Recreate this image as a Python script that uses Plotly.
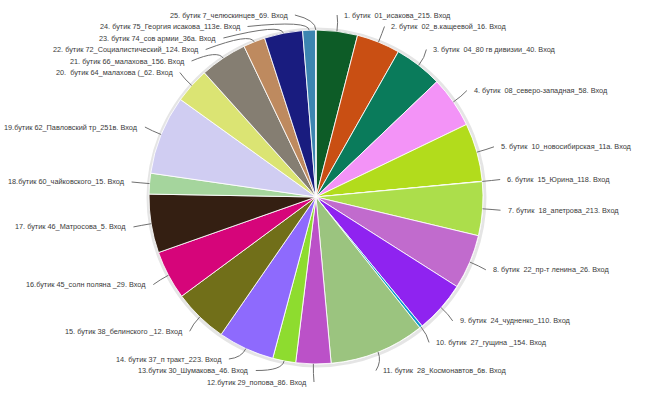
import math
import plotly.graph_objects as go

# Store entrance counts per boutique (clockwise from 12 o'clock)
labels = [
    "1. бутик  01_исакова_215. Вход",
    "2. бутик  02_в.кащеевой_16. Вход",
    "3. бутик  04_80 гв дивизии_40. Вход",
    "4. бутик  08_северо-западная_58. Вход",
    "5. бутик  10_новосибирская_11а. Вход",
    "6. бутик  15_Юрина_118. Вход",
    "7. бутик  18_апетрова_213. Вход",
    "8. бутик  22_пр-т ленина_26. Вход",
    "9. бутик  24_чудненко_110. Вход",
    "10. бутик  27_гущина _154. Вход",
    "11. бутик  28_Космонавтов_6в. Вход",
    "12.бутик 29_попова_86. Вход",
    "13.бутик 30_Шумакова_46. Вход",
    "14. бутик 37_п тракт_223. Вход",
    "15. бутик 38_белинского _12. Вход",
    "16.бутик 45_солн поляна _29. Вход",
    "17. бутик 46_Матросова_5. Вход",
    "18.бутик 60_чайковского_15. Вход",
    "19.бутик 62_Павловский тр_251в. Вход",
    "20.  бутик 64_малахова (_62. Вход",
    "21. бутик 66_малахова_156. Вход",
    "22. бутик 72_Социалистический_124. Вход",
    "23. бутик 74_сов армии_36а. Вход",
    "24. бутик 75_Георгия исакова_113е. Вход",
    "25. бутик 7_челюскинцев_69. Вход",
]

visits = [144, 151, 168, 179, 203, 1, 187, 190, 181, 10, 332, 122, 80,
          196, 189, 170, 204, 72, 275, 123, 164, 76, 133, 45, 1]

colors = [
    "#0d5c27", "#c94f13", "#0a7b5b", "#f393f7", "#b2dc1c", "#7cb5ec",
    "#acde4b", "#c16bcd", "#8f23f0", "#1199cc", "#9bc47f", "#bb51c8",
    "#8edc2f", "#8e6afd", "#716f19", "#d6057a", "#341f12", "#a5d59d",
    "#d0cdf2", "#dbe473", "#857e72", "#be8a5f", "#191c7f", "#3c85b1",
    "#7cb5ec",
]

W, H = 650, 395
CX, CY, R = 316, 197, 167       # pie centre and radius in pixels
LABEL_R = R + 16                # radius on which label anchors sit
TEXT_PAD = 7                    # gap between anchor and text
GAP = 11.5                      # minimal vertical spacing between labels
TOP, BOTTOM = 15, 382

fig = go.Figure()

fig.add_trace(go.Pie(
    labels=labels,
    values=visits,
    marker=dict(colors=colors, line=dict(color="rgba(255,255,255,0.85)", width=1)),
    sort=False,
    direction="clockwise",
    rotation=0,
    textinfo="none",
    hoverinfo="label+value",
    showlegend=False,
    domain=dict(x=[(CX - R) / W, (CX + R) / W],
                y=[(H - CY - R) / H, (H - CY + R) / H]),
))

# mid angle of each slice (degrees clockwise from top)
total = sum(visits)
mids = []
acc = 0.0
for v in visits:
    mids.append((acc + v / 2) / total * 360.0)
    acc += v

# natural label heights, then spread them apart on each side
items = []
for i, a in enumerate(mids):
    t = math.radians(a)
    side = 1 if a < 180 else -1
    y0 = CY - (R + 20) * math.cos(t)
    items.append(dict(i=i, a=a, side=side, y=y0))

for side in (1, -1):
    grp = sorted([it for it in items if it["side"] == side], key=lambda d: d["y"])
    prev = None
    for it in grp:
        y = max(it["y"], TOP)
        if prev is not None:
            y = max(y, prev + GAP)
        it["y"] = y
        prev = y
    nxt = None
    for it in reversed(grp):
        y = min(it["y"], BOTTOM)
        if nxt is not None:
            y = min(y, nxt - GAP)
        it["y"] = y
        nxt = y

shapes = [
    # soft shadow ring around the pie
    dict(type="circle", xref="x", yref="y", layer="below",
         x0=CX - R - 1, x1=CX + R + 2, y0=CY - R - 1, y1=CY + R + 2,
         line=dict(color="rgba(0,0,0,0.10)", width=3)),
]
annotations = []
for it in items:
    t = math.radians(it["a"])
    sx, sy = math.sin(t), -math.cos(t)
    x0, y0 = CX + R * sx, CY + R * sy
    x1, y1 = CX + (R + 10) * sx, CY + (R + 10) * sy
    dy = it["y"] - CY
    dx = math.sqrt(max(LABEL_R ** 2 - dy ** 2, 0.0))
    lx = CX + it["side"] * dx
    ly = it["y"]
    ex = lx + 2 * it["side"]
    shapes.append(dict(
        type="path", xref="x", yref="y", layer="above",
        path=f"M {x0:.2f},{y0:.2f} Q {x1:.2f},{y1:.2f} {ex:.2f},{ly:.2f}",
        line=dict(color="#707070", width=1),
    ))
    annotations.append(dict(
        x=lx + TEXT_PAD * it["side"], y=ly, xref="x", yref="y",
        text=labels[it["i"]], showarrow=False,
        xanchor="left" if it["side"] == 1 else "right", yanchor="middle",
        font=dict(family="Liberation Sans, Arial, sans-serif",
                  size=7.3, color="#3a3a3a"),
    ))

fig.update_layout(
    width=W, height=H,
    margin=dict(l=0, r=0, t=0, b=0),
    paper_bgcolor="white", plot_bgcolor="white",
    xaxis=dict(range=[0, W], visible=False, fixedrange=True, domain=[0, 1]),
    yaxis=dict(range=[H, 0], visible=False, fixedrange=True, domain=[0, 1]),
    shapes=shapes,
    annotations=annotations,
)

fig.write_html("out.html")
